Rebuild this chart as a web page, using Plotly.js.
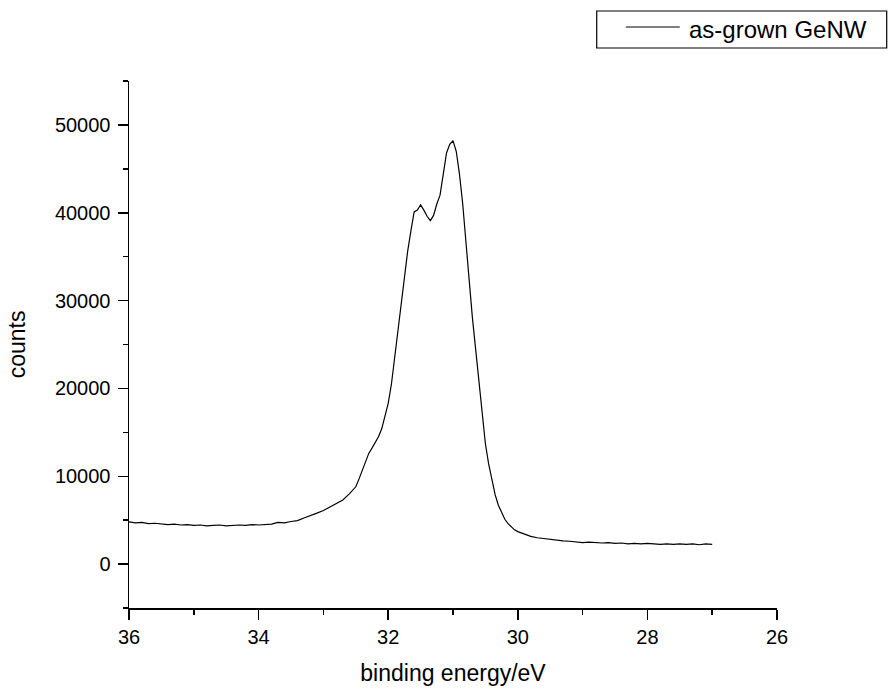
<!DOCTYPE html>
<html>
<head>
<meta charset="utf-8">
<script src="https://cdn.plot.ly/plotly-3.0.1.min.js"></script>
<style>html,body{margin:0;padding:0;background:#fff;}#chart{width:892px;height:689px;}</style>
</head>
<body>
<div id="chart"></div>
<script>
// binding energy (eV)
const bindingEnergy = [
  36.0,35.9,35.8,35.7,35.6,35.5,35.4,35.3,35.2,35.1,
  35.0,34.9,34.8,34.7,34.6,34.5,34.4,34.3,34.2,34.1,
  34.0,33.9,33.8,33.7,33.6,33.5,33.4,33.3,33.2,33.1,
  33.0,32.9,32.8,32.7,32.6,32.5,32.45,32.4,32.35,32.3,
  32.25,32.2,32.15,32.1,32.05,32.0,31.95,31.9,31.85,31.8,
  31.75,31.7,31.65,31.6,31.55,31.5,31.45,31.4,31.35,31.3,
  31.25,31.2,31.15,31.1,31.05,31.0,30.95,30.9,30.85,30.8,
  30.75,30.7,30.65,30.6,30.55,30.5,30.45,30.4,30.35,30.3,
  30.25,30.2,30.15,30.1,30.05,30.0,29.9,29.8,29.7,29.6,
  29.5,29.4,29.3,29.2,29.1,29.0,28.9,28.8,28.7,28.6,
  28.5,28.4,28.3,28.2,28.1,28.0,27.9,27.8,27.7,27.6,
  27.5,27.4,27.3,27.2,27.1,27.0
];
// counts for the as-grown GeNW sample
const countsGeNW = [
  4800,4700,4750,4600,4650,4550,4500,4550,4450,4500,
  4400,4450,4350,4400,4450,4350,4400,4450,4400,4500,
  4450,4500,4550,4750,4700,4850,4950,5250,5500,5800,
  6100,6500,6900,7300,8000,8800,9700,10600,11600,12600,
  13200,13800,14500,15400,16700,18300,20500,23500,26500,29800,
  33000,35600,37900,40100,40300,40900,40300,39600,39100,39700,
  41000,42000,44400,46800,47800,48200,47000,44400,41000,37000,
  32300,28000,24500,21000,17000,13700,11400,9600,7900,6700,
  5800,5100,4600,4200,3900,3700,3400,3150,3000,2900,
  2850,2750,2650,2600,2550,2450,2500,2450,2400,2450,
  2350,2400,2300,2350,2300,2350,2300,2250,2300,2250,
  2300,2250,2300,2200,2300,2250
];
const xTickVals = [36,34,32,30,28,26];
const xTickText = ["36","34","32","30","28","26"];
const yTickVals = [0,10000,20000,30000,40000,50000];
const yTickText = ["0","10000","20000","30000","40000","50000"];
const seriesName = "as-grown GeNW";

const FONT = "Liberation Sans, Arial, sans-serif";

const trace = {
  x: bindingEnergy, y: countsGeNW, type: "scatter", mode: "lines",
  name: seriesName, line: {color: "#000", width: 1.2}, showlegend: false,
  hoverinfo: "x+y"
};

const layout = {
  width: 892, height: 689,
  margin: {l: 129, r: 115, t: 81, b: 81, pad: 0},
  paper_bgcolor: "#fff", plot_bgcolor: "#fff",
  font: {family: FONT, color: "#000", size: 20},
  showlegend: false,
  xaxis: {
    range: [36, 26], autorange: false,
    tickmode: "array", tickvals: xTickVals, ticktext: xTickText,
    ticks: "outside", ticklen: 10, tickwidth: 1.5, tickcolor: "#000",
    minor: {dtick: 1, tick0: 0, ticks: "outside", ticklen: 5, tickwidth: 1.5, tickcolor: "#000", showgrid: false},
    showline: true, linecolor: "#000", linewidth: 1.5, mirror: false,
    showgrid: false, zeroline: false,
    tickfont: {family: FONT, size: 20, color: "#000"},
    title: {text: "binding energy/eV", font: {family: FONT, size: 23, color: "#000"}, standoff: 18},
    automargin: false
  },
  yaxis: {
    range: [-5000, 55000], autorange: false,
    tickmode: "array", tickvals: yTickVals, ticktext: yTickText,
    ticks: "outside", ticklen: 10, tickwidth: 1.5, tickcolor: "#000",
    ticklabelstandoff: 3,
    minor: {dtick: 5000, tick0: 0, ticks: "outside", ticklen: 5, tickwidth: 1.5, tickcolor: "#000", showgrid: false},
    showline: true, linecolor: "#000", linewidth: 1.5, mirror: false,
    showgrid: false, zeroline: false,
    tickfont: {family: FONT, size: 20, color: "#000"},
    title: {text: "counts", font: {family: FONT, size: 23, color: "#000"}, standoff: 23},
    automargin: false
  },
  shapes: [
    {type: "rect", xref: "paper", yref: "paper", x0: 0.7218, x1: 1.1693, y0: 1.0626, y1: 1.1328,
     line: {color: "#000", width: 1.2}, fillcolor: "#fff", layer: "above"},
    {type: "line", xref: "paper", yref: "paper", x0: 0.7666, x1: 0.8499, y0: 1.1025, y1: 1.1025,
     line: {color: "#000", width: 1.2}}
  ],
  annotations: [
    {xref: "paper", yref: "paper", x: 0.8604, y: 1.0985, xanchor: "left", yanchor: "middle",
     text: seriesName, showarrow: false, font: {family: FONT, size: 24, color: "#000"}}
  ]
};

Plotly.newPlot("chart", [trace], layout, {displayModeBar: false, staticPlot: true});
</script>
</body>
</html>
